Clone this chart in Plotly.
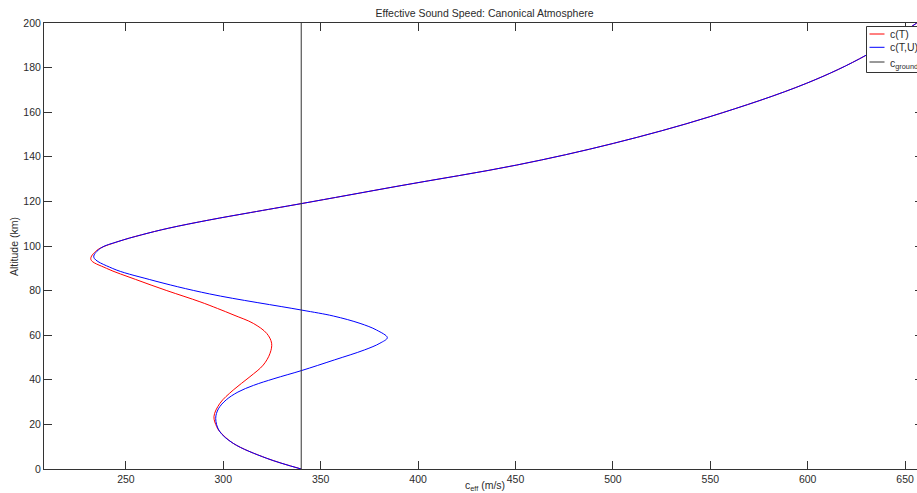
import plotly.graph_objects as go

# ---- data ----
alt_TU = [0, 4.8, 11.5, 17, 22.7, 27, 31, 34.5, 37.5, 40.5, 44.1, 48.9, 53.4, 56.4, 58.9,
          62.3, 65.3, 68.6, 71.3, 78.5, 85, 90, 95, 99, 102, 105, 108, 111.7, 115, 119, 127,
          136.3, 146, 158, 173, 185.7, 200]
c_TU = [340, 322.3, 305.1, 298, 296.1, 297.5, 301.5, 307.5, 315.5, 326, 340, 357, 372.5,
        380.4, 384.2, 378.7, 370.2, 356.5, 340, 293, 262, 243, 233.5, 237, 246, 258, 272, 293,
        314, 340, 390.7, 450.6, 500.2, 549.8, 599.5, 630.3, 656]

alt_T = [0, 4.8, 11.5, 17, 19, 23.5, 29.5, 35.4, 41.4, 46.6, 51.9, 56.4, 60.8, 65.3, 69, 72,
         75, 80, 85, 90, 94, 98, 102, 105, 108, 111.7, 115, 119, 127, 136.3, 146, 158, 173,
         185.7, 200]
c_T = [340, 322.3, 305.1, 298, 296.6, 295.2, 298.3, 305.1, 313.7, 320.5, 324, 324.8, 322.3,
       315.4, 305.5, 297, 288, 271, 255, 240, 232, 235, 246, 258, 272, 293, 314, 340, 390.7,
       450.6, 500.2, 549.8, 599.5, 630.3, 656]

c_ground = 340
alt_ground = [0, 200]

x_ticks = [250, 300, 350, 400, 450, 500, 550, 600, 650]
y_ticks = [0, 20, 40, 60, 80, 100, 120, 140, 160, 180, 200]

title_text = "Effective Sound Speed: Canonical Atmosphere"
legend_names = ["c(T)", "c(T,U)", "c<sub>ground</sub>"]
colors = ["#ff0000", "#0000ff", "#333333"]

# ---- geometry ----
W, H = 917, 493
L, T, B = 44, 23, 24
PW = W - L
PH = H - T - B


def px(x):
    return (x - L) / PW


def py(y):
    return (H - B - y) / PH


FONT = "Liberation Sans, Arial, sans-serif"
TXT = "#2b2b2b"
FS = 10.5

fig = go.Figure()
fig.add_trace(go.Scatter(x=c_T, y=alt_T, mode="lines", name=legend_names[0],
                         line=dict(color=colors[0], width=1.0, shape="spline", smoothing=1.0)))
fig.add_trace(go.Scatter(x=c_TU, y=alt_TU, mode="lines", name=legend_names[1],
                         line=dict(color=colors[1], width=1.0, shape="spline", smoothing=1.0)))
fig.add_trace(go.Scatter(x=[c_ground, c_ground], y=alt_ground, mode="lines", name=legend_names[2],
                         line=dict(color=colors[2], width=1.0)))

axis_common = dict(showgrid=False, zeroline=False, showline=True, linecolor="#333333",
                   linewidth=1, ticks="inside", ticklen=8, tickcolor="#333333",
                   tickfont=dict(family=FONT, size=FS, color=TXT))

fig.update_layout(
    width=W, height=H,
    margin=dict(l=L, r=0, t=T, b=B, pad=0),
    paper_bgcolor="white", plot_bgcolor="white",
    showlegend=False,
    title=dict(text=title_text, x=484.5 / W, xref="container", xanchor="center",
               y=1 - 13 / H, yref="container", yanchor="middle",
               font=dict(family=FONT, size=FS, color=TXT)),
    xaxis=dict(range=[207.96, 656.1], tickvals=x_ticks, mirror="ticks", **axis_common),
    yaxis=dict(range=[0, 200], tickvals=y_ticks, mirror=False, **axis_common),
    yaxis2=dict(range=[0, 200], tickvals=y_ticks, overlaying="y", side="right",
                showline=False, showgrid=False, zeroline=False, showticklabels=False,
                ticks="inside", ticklen=2, tickcolor="#333333"),
)

# invisible trace to keep the right-hand tick axis alive
fig.add_trace(go.Scatter(x=[c_ground], y=[0], yaxis="y2", mode="markers",
                         marker=dict(opacity=0), hoverinfo="skip", showlegend=False))

# axis titles
fig.add_annotation(text="Altitude (km)", textangle=-90, x=px(14), y=py(246), xref="paper",
                   yref="paper", showarrow=False, xanchor="center", yanchor="middle",
                   font=dict(family=FONT, size=FS, color=TXT))
fig.add_annotation(text="c<sub>eff</sub> (m/s)", x=px(484.5), y=py(486), xref="paper",
                   yref="paper", showarrow=False, xanchor="center", yanchor="middle",
                   font=dict(family=FONT, size=FS, color=TXT))

# legend box (drawn by hand so it can run off the right edge like the reference)
fig.add_shape(type="rect", xref="paper", yref="paper", x0=px(866.5), x1=px(935),
              y0=py(72.5), y1=py(26.5), line=dict(color="#333333", width=1),
              fillcolor="white", layer="above")
leg_y = [34, 47.3, 62]
for name, col, yy in zip(legend_names, colors, leg_y):
    fig.add_shape(type="line", xref="paper", yref="paper", x0=px(869.5), x1=px(884.5),
                  y0=py(yy), y1=py(yy), line=dict(color=col, width=1.0), layer="above")
    fig.add_annotation(text=name, x=px(887.5), y=py(yy if "sub" not in name else yy + 2),
                       xref="paper", yref="paper", showarrow=False, xanchor="left",
                       yanchor="middle", font=dict(family=FONT, size=FS, color=TXT))

fig.write_html("out.html")
